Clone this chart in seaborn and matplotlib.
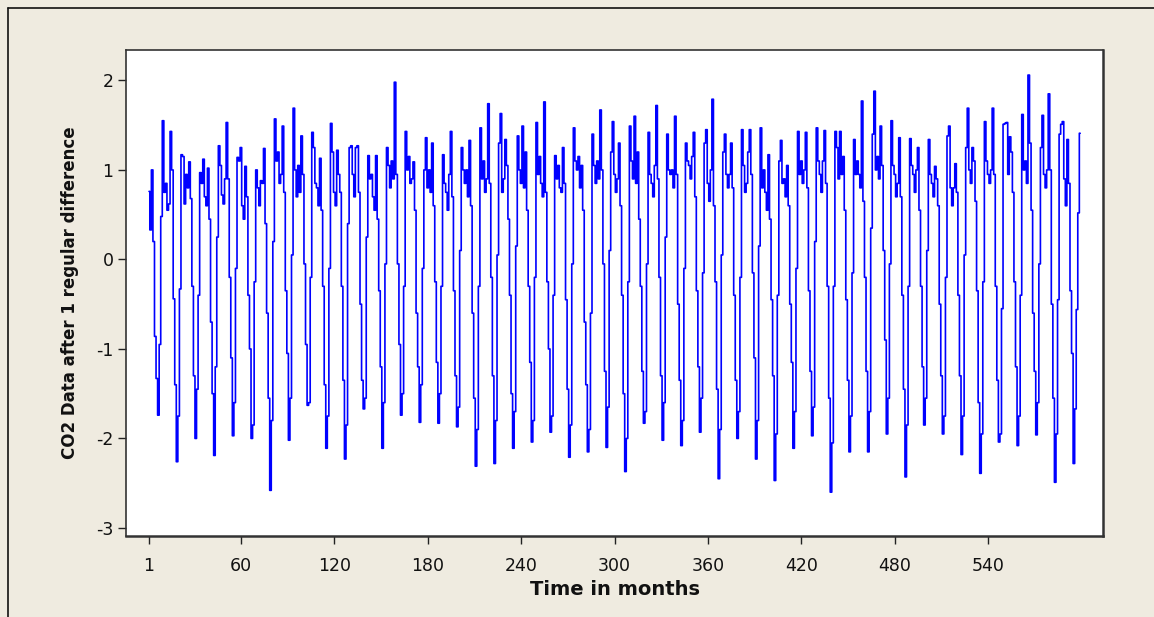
import numpy as np
import pandas as pd
import matplotlib
matplotlib.use("Agg")
import matplotlib.pyplot as plt
import seaborn as sns
from matplotlib.lines import Line2D

# Monthly first differences, one row per year (Jan..Dec);
# the first year starts in February.
diff_1959_1968 = [
    0.76, 0.33, 1.00, 0.20, -0.86, -1.33, -1.74, -0.95, 0.48, 1.55, 0.75,
    0.85, 0.55, 0.62, 1.43, 1.00, -0.44, -1.40, -2.26, -1.75, -0.33, 1.17, 1.15,
    0.62, 0.95, 0.80, 1.09, 0.68, -0.30, -1.30, -2.00, -1.45, -0.40, 0.97, 0.85,
    1.12, 0.70, 0.60, 1.02, 0.45, -0.70, -1.50, -2.19, -1.20, 0.25, 1.27, 1.05,
    0.72, 0.62, 0.90, 1.53, 0.90, -0.20, -1.10, -1.97, -1.60, -0.10, 1.14, 1.10,
    1.25, 0.60, 0.45, 1.04, 0.70, -0.40, -1.00, -2.00, -1.85, -0.25, 1.00, 0.80,
    0.60, 0.88, 0.85, 1.24, 0.40, -0.60, -1.55, -2.58, -1.80, 0.20, 1.57, 1.10,
    1.20, 0.85, 0.95, 1.49, 0.75, -0.35, -1.05, -2.02, -1.55, 0.05, 1.69, 1.00,
    0.70, 1.05, 0.75, 1.38, 0.95, -0.05, -0.95, -1.63, -1.60, -0.20, 1.42, 1.25,
    0.85, 0.80, 0.60, 1.13, 0.55, -0.30, -1.40, -2.11, -1.75, -0.10, 1.52, 1.20,
]
diff_1969_1978 = [
    0.75, 0.60, 1.22, 0.95, 0.75, -0.30, -1.35, -2.23, -1.85, 0.40, 1.25, 1.27,
    0.95, 0.70, 1.25, 1.27, 0.75, -0.50, -1.35, -1.67, -1.55, 0.25, 1.16, 0.90,
    0.95, 0.70, 0.55, 1.16, 0.45, -0.35, -1.20, -2.11, -1.60, -0.05, 1.25, 1.05,
    0.80, 1.10, 0.90, 1.98, 0.95, -0.05, -0.95, -1.74, -1.50, -0.30, 1.43, 1.00,
    1.15, 0.85, 0.90, 1.09, 0.55, -0.60, -1.20, -1.82, -1.40, -0.10, 1.00, 1.36,
    0.80, 1.00, 0.75, 1.30, 0.60, -0.25, -1.15, -1.83, -1.50, -0.30, 1.17, 0.85,
    0.75, 0.55, 0.95, 1.43, 0.70, -0.35, -1.30, -1.87, -1.65, 0.10, 1.25, 1.00,
    0.85, 1.00, 0.70, 1.33, 0.60, -0.60, -1.55, -2.31, -1.90, -0.30, 1.47, 0.90,
    1.10, 0.75, 0.90, 1.74, 0.85, -0.20, -1.30, -2.28, -1.80, 0.05, 1.30, 1.63,
    0.75, 0.90, 1.34, 1.05, 0.45, -0.40, -1.50, -2.11, -1.70, 0.15, 1.38, 1.00,
]
diff_1979_1988 = [
    0.85, 1.49, 0.80, 1.20, 0.55, -0.30, -1.15, -2.04, -1.80, -0.20, 1.53, 0.95,
    1.15, 0.85, 0.70, 1.76, 0.75, -0.25, -1.00, -1.93, -1.75, -0.40, 1.16, 0.90,
    1.05, 0.80, 0.75, 1.25, 0.85, -0.45, -1.45, -2.21, -1.85, -0.05, 1.47, 1.10,
    1.00, 1.15, 0.80, 1.05, 0.55, -0.70, -1.40, -2.15, -1.90, -0.60, 1.40, 1.05,
    0.85, 1.10, 0.90, 1.67, 1.00, -0.05, -1.25, -2.10, -1.65, 0.10, 1.20, 1.54,
    0.95, 0.75, 0.90, 1.30, 0.60, -0.40, -1.50, -2.37, -2.00, -0.25, 1.49, 1.10,
    0.90, 1.60, 0.85, 1.20, 0.45, -0.30, -1.25, -1.83, -1.70, -0.05, 1.42, 0.95,
    0.85, 0.70, 1.05, 1.72, 0.90, -0.20, -1.30, -2.02, -1.60, 0.25, 1.40, 1.00,
    0.95, 1.00, 0.80, 1.60, 0.95, -0.50, -1.35, -2.08, -1.80, -0.10, 1.30, 1.10,
    1.05, 0.90, 1.15, 1.42, 0.70, -0.35, -1.20, -1.93, -1.55, -0.15, 1.30, 1.45,
]
diff_1989_1998 = [
    0.85, 0.65, 1.00, 1.79, 0.60, -0.25, -1.45, -2.45, -1.90, 0.05, 1.20, 1.40,
    0.95, 0.80, 0.95, 1.30, 0.80, -0.40, -1.35, -2.00, -1.70, -0.20, 1.45, 1.05,
    0.75, 0.85, 1.20, 1.45, 0.95, -0.15, -1.10, -2.23, -1.80, 0.15, 1.47, 0.80,
    1.00, 0.75, 0.55, 1.17, 0.45, -0.45, -1.30, -2.47, -1.95, -0.40, 1.10, 1.33,
    0.85, 0.90, 0.70, 1.05, 0.60, -0.50, -1.15, -2.11, -1.70, -0.10, 1.43, 0.95,
    1.10, 0.85, 1.00, 1.42, 0.80, -0.35, -1.25, -1.97, -1.65, 0.20, 1.47, 1.10,
    0.95, 0.75, 1.10, 1.44, 0.85, -0.30, -1.55, -2.60, -2.05, -0.30, 1.43, 1.25,
    0.90, 1.43, 0.95, 1.15, 0.55, -0.45, -1.35, -2.15, -1.75, -0.15, 1.34, 0.95,
    1.10, 0.95, 0.80, 1.77, 0.65, -0.20, -1.25, -2.15, -1.70, 0.35, 1.40, 1.88,
    1.00, 1.15, 0.90, 1.49, 1.05, 0.10, -0.90, -1.95, -1.55, -0.05, 1.55, 1.05,
]
diff_1999_2008 = [
    0.95, 0.70, 0.85, 1.36, 0.70, -0.40, -1.45, -2.43, -1.85, -0.30, 1.35, 1.05,
    0.95, 0.75, 1.00, 1.25, 0.55, -0.30, -1.20, -1.85, -1.55, 0.10, 1.34, 0.95,
    0.85, 0.70, 1.04, 0.90, 0.60, -0.50, -1.30, -1.95, -1.75, -0.20, 1.38, 1.49,
    0.80, 0.60, 0.80, 1.07, 0.75, -0.40, -1.30, -2.18, -1.75, 0.05, 1.25, 1.69,
    1.00, 0.85, 1.25, 1.10, 0.65, -0.35, -1.60, -2.39, -1.95, -0.25, 1.54, 1.10,
    0.95, 0.85, 1.00, 1.69, 0.95, -0.30, -1.35, -2.04, -1.95, -0.55, 1.51, 1.52,
    1.53, 0.95, 1.37, 1.20, 0.75, -0.25, -1.20, -2.08, -1.75, -0.40, 1.62, 1.00,
    1.10, 0.85, 2.06, 1.30, 0.55, -0.60, -1.25, -1.96, -1.60, -0.05, 1.25, 1.61,
    0.95, 0.80, 1.00, 1.85, 1.00, -0.50, -1.55, -2.49, -1.95, -0.45, 1.40, 1.51,
    1.54, 0.90, 0.60, 1.34, 0.85, -0.35, -1.05, -2.28, -1.67, -0.56, 0.52, 1.41,
]

x_ticks = [1, 60, 120, 180, 240, 300, 360, 420, 480, 540]
y_ticks = [-3, -2, -1, 0, 1, 2]

values = diff_1959_1968 + diff_1969_1978 + diff_1979_1988 + diff_1989_1998 + diff_1999_2008
df = pd.DataFrame({"month": np.arange(1, len(values) + 1), "diff": values})

sns.set_theme(style="white")
plt.rcParams["font.family"] = ["DejaVu Sans"]

W, H = 1154, 617
fig = plt.figure(figsize=(W / 100, H / 100), dpi=100)
fig.patch.set_facecolor("#EFEBE0")

# axes box in pixel coords: left 126, right 1103, top 50, bottom 536
ax = fig.add_axes([126 / W, 1 - 536 / H, (1103 - 126) / W, (536 - 50) / H])
ax.set_facecolor("white")

# the old graph renders each month as a flat step joined by vertical strokes
sns.lineplot(data=df, x="month", y="diff", ax=ax, color="#0000FF", linewidth=1.2,
             estimator=None, drawstyle="steps-mid")

ax.set_xlim(-13.8, 613.7)
ax.set_ylim(-3.09, 2.34)
ax.set_xticks(x_ticks)
ax.set_yticks(y_ticks)
ax.set_xticklabels([str(t) for t in x_ticks])
ax.set_yticklabels([str(t) for t in y_ticks])

ax.tick_params(axis="both", direction="out", length=6, width=1, color="#222222",
               labelsize=12.5, labelcolor="#111111")
ax.tick_params(axis="x", pad=9)
ax.tick_params(axis="y", pad=3)
ax.xaxis.set_ticks_position("bottom")
ax.yaxis.set_ticks_position("left")

for side in ["left", "top"]:
    ax.spines[side].set_color("#333333")
    ax.spines[side].set_linewidth(1.2)
for side in ["right", "bottom"]:
    ax.spines[side].set_color("#333333")
    ax.spines[side].set_linewidth(1.8)

ax.set_xlabel("Time in months", fontsize=14, fontweight="bold", color="#111111", labelpad=4)
ax.set_ylabel("CO2 Data after 1 regular difference", fontsize=12, fontweight="bold",
              color="#111111", labelpad=12)

# outer frame of the graph window (top and left edges visible)
fig.add_artist(Line2D([8 / W, 8 / W], [0, 1 - 8 / H], transform=fig.transFigure,
                      color="#111111", linewidth=1.2))
fig.add_artist(Line2D([8 / W, 1], [1 - 8 / H, 1 - 8 / H], transform=fig.transFigure,
                      color="#111111", linewidth=1.2))

fig.savefig("out.png", dpi=100, facecolor=fig.get_facecolor())
plt.close(fig)
